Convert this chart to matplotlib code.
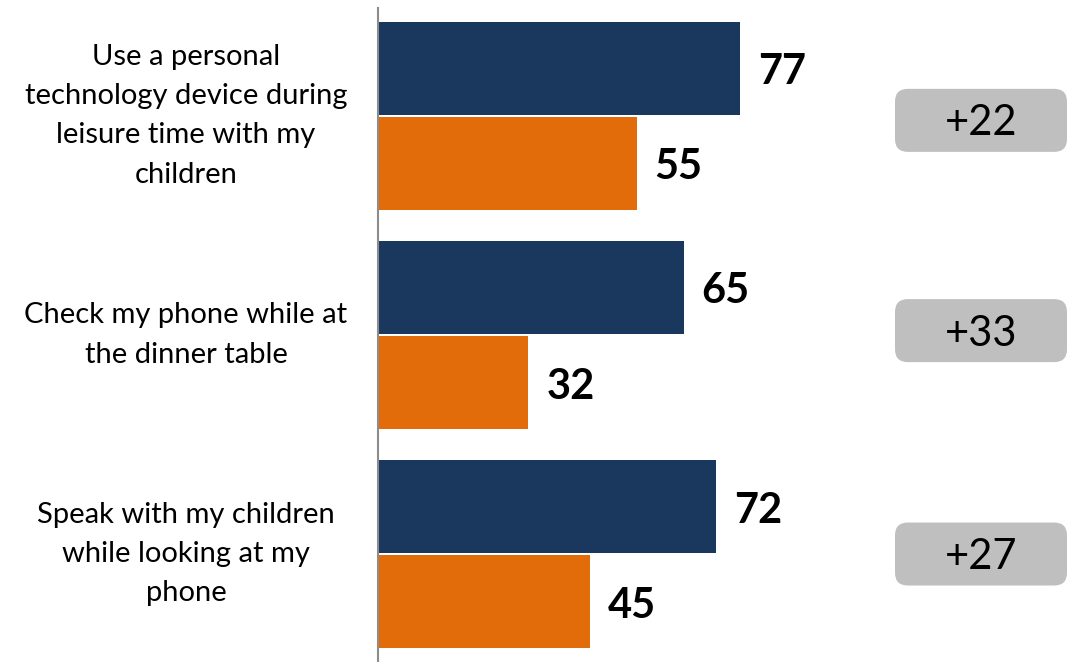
import matplotlib
matplotlib.use("Agg")
import matplotlib.pyplot as plt
from matplotlib.patches import FancyBboxPatch
import numpy as np

plt.rcParams['font.family'] = ['Lato', 'DejaVu Sans']

categories = [
    "Use a personal\ntechnology device during\nleisure time with my\nchildren",
    "Check my phone while at\nthe dinner table",
    "Speak with my children\nwhile looking at my\nphone",
]
series_a = [77, 65, 72]   # navy bars
series_b = [55, 32, 45]   # orange bars

navy = "#1a375e"
orange = "#e36c0a"
badge_grey = "#bfbfbf"

W, H = 1071, 662
fig = plt.figure(figsize=(W / 100, H / 100), dpi=100)
ax = fig.add_axes([378 / W, 0, 470 / W, 654 / H])

y = np.arange(len(categories))
bar_h = 93 / 219
off = 47.5 / 219
nudge = 4 / 219  # small downward shift for the numerals

ax.barh(y - off, series_a, height=bar_h, color=navy, edgecolor="none")
ax.barh(y + off, series_b, height=bar_h, color=orange, edgecolor="none")

ax.set_xlim(0, 100)
ax.set_ylim(2.493, -0.493)

for yi, a, b in zip(y, series_a, series_b):
    ax.text(a + 3.8, yi - off + nudge, f"{a}", ha="left", va="center",
            fontsize=30, fontweight="bold", color="black")
    ax.text(b + 3.8, yi + off + nudge, f"{b}", ha="left", va="center",
            fontsize=30, fontweight="bold", color="black")

# category labels to the left of the axis
for yi, lab in zip(y, categories):
    ax.text(-192 / 470, yi, lab, transform=ax.get_yaxis_transform(),
            ha="center", va="center", fontsize=21, linespacing=1.62,
            color="black")

# difference badges on the right
fig.canvas.draw()
badge_y = [0.02, 0.98, 2.0]
bw, bh = 172 / W, 63 / H
bx = 981 / W
for yc, a, b in zip(badge_y, series_a, series_b):
    py = ax.transData.transform((0, yc))[1] / H
    patch = FancyBboxPatch((bx - bw / 2, py - bh / 2), bw, bh,
                           boxstyle="round,pad=0,rounding_size=0.012",
                           transform=fig.transFigure, facecolor=badge_grey,
                           edgecolor="none", mutation_aspect=W / H)
    fig.add_artist(patch)
    fig.text(bx, py - 3 / H, f"+{a - b}", ha="center", va="center",
             fontsize=30, color="black")

for s in ["top", "right", "bottom"]:
    ax.spines[s].set_visible(False)
ax.spines["left"].set_color("#8c8c8c")
ax.spines["left"].set_linewidth(1.5)
ax.set_xticks([])
ax.set_yticks([])

fig.savefig("out.png", dpi=100)
